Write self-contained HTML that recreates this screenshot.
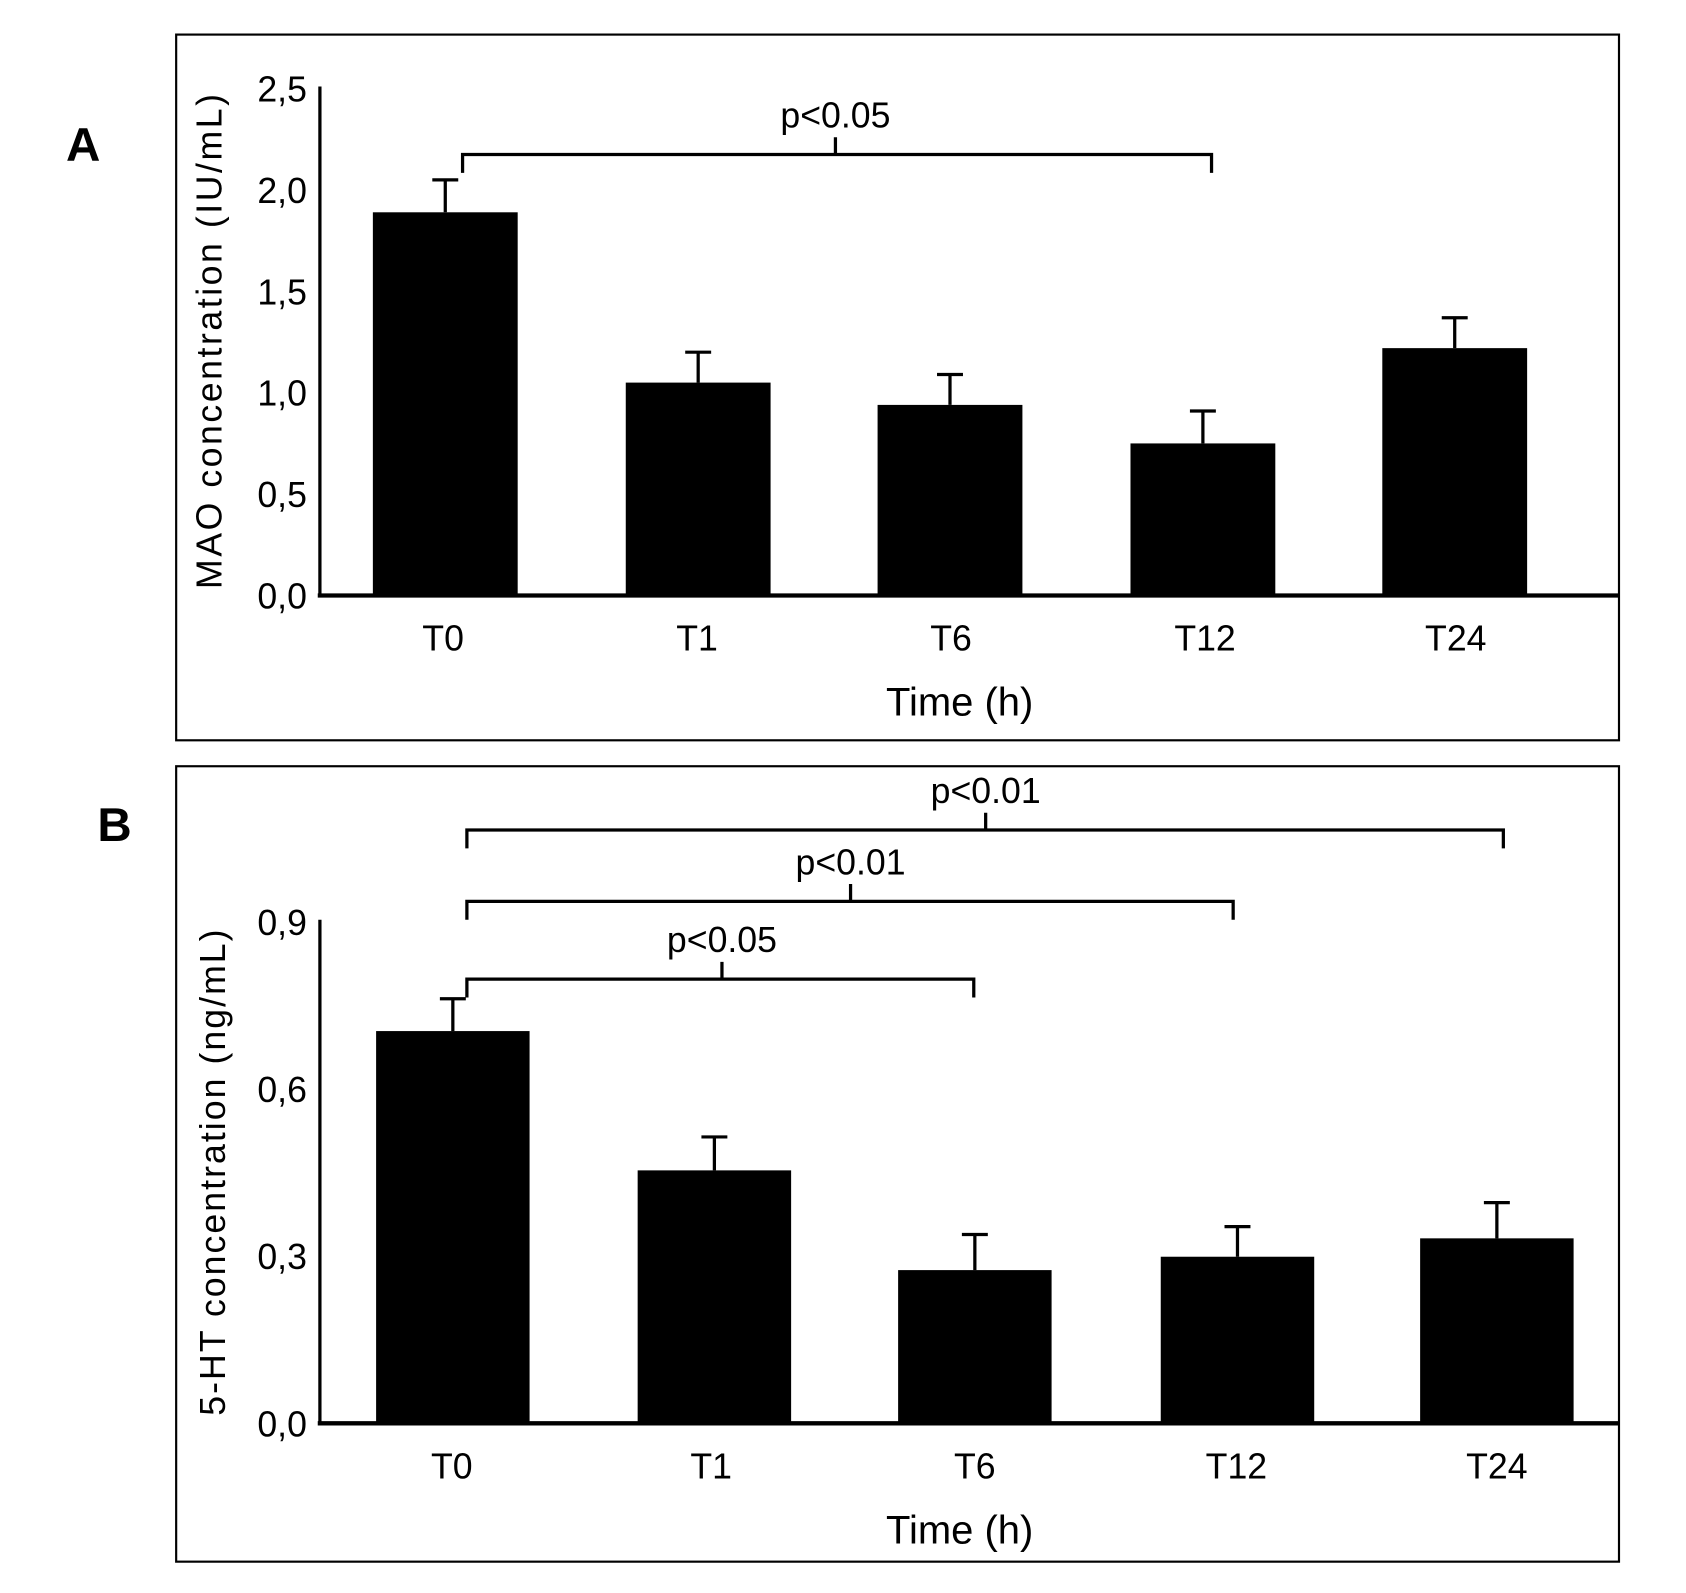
<!DOCTYPE html>
<html><head><meta charset="utf-8"><style>html,body{margin:0;padding:0;background:#fff}svg{display:block}</style></head>
<body>
<svg id="fig" width="1686" height="1593" viewBox="0 0 1560 1474" preserveAspectRatio="none" xmlns="http://www.w3.org/2000/svg" font-family="Liberation Sans, sans-serif">
</svg>
<script>
const categories = ["T0","T1","T6","T12","T24"];
const maoValues = [1.89, 1.05, 0.94, 0.75, 1.22];
const maoErrors = [0.16, 0.15, 0.15, 0.16, 0.15];
const maoTicks = [0, 0.5, 1.0, 1.5, 2.0, 2.5];
const maoTickLabels = ["0,0","0,5","1,0","1,5","2,0","2,5"];
const htValues = [0.704, 0.454, 0.275, 0.299, 0.332];
const htErrors = [0.058, 0.060, 0.064, 0.054, 0.064];
const htTicks = [0, 0.3, 0.6, 0.9];
const htTickLabels = ["0,0","0,3","0,6","0,9"];

const NS="http://www.w3.org/2000/svg";
const svg=document.getElementById('fig');
function mk(tag,attrs,parent,text){const e=document.createElementNS(NS,tag);for(const k in attrs)e.setAttribute(k,attrs[k]);if(text!==undefined)e.textContent=text;(parent||svg).appendChild(e);return e;}

function panel(cfg){
  const g=mk('g',{});
  
  
  const fr=mk('rect',{x:cfg.box[0],y:cfg.box[1],width:cfg.box[2]-cfg.box[0],height:cfg.box[3]-cfg.box[1],fill:'none',stroke:'#000','stroke-width':2},g);
  
  
  const lt=mk('text',{x:cfg.letter[0],y:cfg.letter[1],'font-size':44,'font-weight':'bold','text-anchor':'middle'},g,cfg.letterText);
  
  
  const y=v=>cfg.y0-(v/cfg.ymax)*(cfg.y0-cfg.ytop);
  const ax=mk('line',{x1:296,y1:cfg.ytop-2,x2:296,y2:cfg.y0+1,stroke:'#000','stroke-width':3},g);
  
  
  const xa=mk('line',{x1:294,y1:cfg.y0,x2:1498,y2:cfg.y0,stroke:'#000','stroke-width':4},g);
  
  
  cfg.ticks.forEach((t,i)=>{
    const tx=mk('text',{x:284,y:y(t)+12,'font-size':33,'text-anchor':'end'},g,cfg.tickLabels[i]);
    
    
  });
  cfg.values.forEach((v,i)=>{
    const cx=cfg.cx[i];
    const b=mk('rect',{x:cx-cfg.bw/2,y:y(v),width:cfg.bw,height:cfg.y0-y(v),fill:'#000'},g);
    
    
    const e=mk('path',{d:`M${cx},${y(v)} V${y(v+cfg.errors[i])} M${cx-12},${y(v+cfg.errors[i])} H${cx+12}`,stroke:'#000','stroke-width':3,fill:'none'},g);
    
    
    const c=mk('text',{x:cfg.lx[i],y:cfg.y0+51,'font-size':33,'text-anchor':'middle'},g,categories[i]);
    
    
  });
  const xt=mk('text',{x:888,y:cfg.y0+111,'font-size':37,'text-anchor':'middle'},g,'Time (h)');
  
  
  const yt=mk('text',{x:0,y:0,'font-size':33,'text-anchor':'middle',textLength:cfg.ytitleLen,lengthAdjust:'spacing',transform:`translate(${cfg.ytitle[0]},${cfg.ytitle[1]}) rotate(-90)`},g,cfg.ytitleText);
  
  
  cfg.brackets.forEach(br=>{
    const [x1,x2,by,mx,label]=br;
    const p=mk('path',{d:`M${x1},${by+17} V${by} H${x2} V${by+17} M${mx},${by} V${by-16}`,stroke:'#000','stroke-width':3,fill:'none'},g);
    
    
    const t=mk('text',{x:mx,y:by-25,'font-size':33,'text-anchor':'middle'},g,label);
    
    
  });
}

panel({name:'panel-a-mao',box:[163,32,1498,685],letter:[77,149],letterText:'A',y0:551,ytop:82,ymax:2.5,
  ticks:maoTicks,tickLabels:maoTickLabels,values:maoValues,errors:maoErrors,
  cx:[412,646,879,1113,1346],bw:134,lx:[410,645,880,1115,1347],
  ytitle:[205,316],ytitleLen:458,ytitleText:'MAO concentration (IU/mL)',
  brackets:[[428,1121,143,773,'p<0.05']]});
panel({name:'panel-b-5ht',box:[163,709,1498,1445],letter:[106,778],letterText:'B',y0:1317,ytop:853,ymax:0.9,
  ticks:htTicks,tickLabels:htTickLabels,values:htValues,errors:htErrors,
  cx:[419,661,902,1145,1385],bw:142,lx:[418,658,902,1144,1385],
  ytitle:[208,1085],ytitleLen:450,ytitleText:'5-HT concentration (ng/mL)',
  brackets:[[432,1391,768,912,'p<0.01'],[432,1141,834,787,'p<0.01'],[432,901,906,668,'p<0.05']]});
</script>
</body></html>
